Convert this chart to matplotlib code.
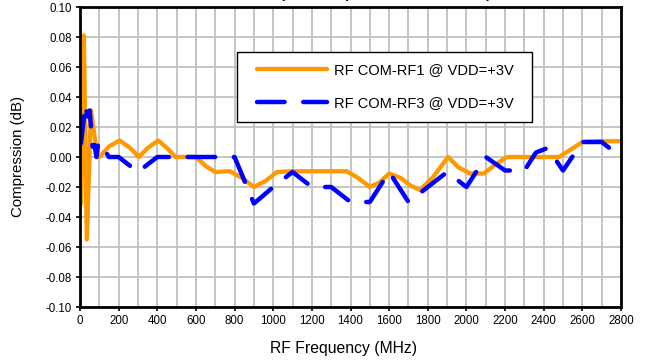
import matplotlib
matplotlib.use("Agg")
import matplotlib.pyplot as plt
from matplotlib.patches import Rectangle
from matplotlib.ticker import MultipleLocator

plt.rcParams['font.family'] = ['Liberation Sans', 'DejaVu Sans']

# ---- data ----
rf1_freq = [5, 20, 35, 57, 90, 100, 150, 205, 260, 305, 350, 405, 450, 495, 600, 650,
            700, 775, 840, 900, 960, 1020, 1100, 1200, 1300, 1380, 1440, 1500, 1550,
            1600, 1660, 1710, 1760, 1830, 1905, 1960, 2020, 2090, 2150, 2210, 2300,
            2400, 2480, 2540, 2600, 2700, 2800]
rf1_comp = [-0.031, 0.081, -0.055, 0.031, 0.000, 0.000, 0.007, 0.011, 0.006, 0.000,
            0.006, 0.011, 0.006, 0.000, 0.000, -0.006, -0.010, -0.0095, -0.014, -0.020,
            -0.016, -0.010, -0.0095, -0.0095, -0.0095, -0.0095, -0.014, -0.020, -0.017,
            -0.011, -0.014, -0.019, -0.022, -0.013, 0.000, -0.007, -0.011, -0.011,
            -0.005, 0.000, 0.000, 0.000, 0.000, 0.005, 0.010, 0.0105, 0.0105]

rf3_freq = [5, 28, 38, 50, 65, 75, 85, 95, 105, 150, 200, 300, 400, 500, 600, 700, 800,
            900, 1000, 1100, 1200, 1300, 1400, 1500, 1600, 1700, 1800, 1900, 2000, 2100,
            2200, 2300, 2360, 2420, 2500, 2600, 2700, 2750]
rf3_comp = [0.009, 0.035, 0.027, 0.031, 0.007, 0.008, 0.000, 0.010, 0.009, 0.000, 0.000,
            -0.010, 0.000, 0.000, 0.000, 0.000, 0.000, -0.031, -0.020, -0.010, -0.020,
            -0.020, -0.030, -0.030, -0.010, -0.030, -0.020, -0.010, -0.020, 0.000,
            -0.009, -0.009, 0.003, 0.006, -0.009, 0.010, 0.010, 0.005]

series_labels = ["RF COM-RF1 @ VDD=+3V", "RF COM-RF3 @ VDD=+3V"]
x_ticks = list(range(0, 2801, 200))
y_ticks = [-0.10, -0.08, -0.06, -0.04, -0.02, 0.00, 0.02, 0.04, 0.06, 0.08, 0.10]

W, H = 647, 362
fig = plt.figure(figsize=(W / 100, H / 100), dpi=100)
ax = fig.add_axes([80 / W, 1 - 307 / H, (621 - 80) / W, (307 - 7) / H])

ax.plot(rf1_freq, rf1_comp, color='#FF9900', lw=3.1, solid_joinstyle='round',
        solid_capstyle='round', label=series_labels[0], zorder=3)
ax.plot(rf3_freq, rf3_comp, color='#0000FF', lw=3.2, dashes=(6.2, 4.2),
        dash_capstyle='round', dash_joinstyle='round', label=series_labels[1], zorder=4)

ax.set_xlim(0, 2800)
ax.set_ylim(-0.10, 0.10)
ax.set_xticks(x_ticks)
ax.set_xticklabels([str(t) for t in x_ticks])
ax.xaxis.set_minor_locator(MultipleLocator(100))
ax.set_yticks(y_ticks)
ax.set_yticklabels([f"{t:.2f}" for t in y_ticks])
ax.tick_params(axis='both', which='major', labelsize=8.3, length=3, width=1.2,
               direction='out', color='black', pad=3)
ax.tick_params(axis='x', which='minor', length=0)
ax.grid(True, which='both', axis='x', color='#C0C0C0', lw=1.3, zorder=0)
ax.grid(True, which='major', axis='y', color='#C0C0C0', lw=1.3, zorder=0)
ax.set_axisbelow(True)
for s in ax.spines.values():
    s.set_linewidth(2.0)
    s.set_color('black')
    s.set_zorder(5)

# legend
x0, x1 = (237 - 80) / 541, (532 - 80) / 541
y_top, y_bot = (307 - 52) / 300, (307 - 122) / 300
ax.add_patch(Rectangle((x0, y_bot), x1 - x0, y_top - y_bot, transform=ax.transAxes,
                       facecolor='white', edgecolor='black', lw=1.0, zorder=6))
leg = ax.legend(loc='upper left', bbox_to_anchor=((257 - 80) / 541, (307 - 63) / 300),
                frameon=False, fontsize=10.5, handlelength=4.8, handletextpad=0.5,
                labelspacing=1.3, borderpad=0, borderaxespad=0)
leg.set_zorder(7)

fig.text(18 / W, 1 - 156 / H, 'Compression (dB)', rotation=90, ha='center',
         va='center', fontsize=10.8)
fig.text(343 / W, 1 - 349 / H, 'RF Frequency (MHz)', ha='center', va='center',
         fontsize=11.3)
fig.text(251 / W, 1.0 + 2 / H, 'Compression (Normalized to 0 dBm)', ha='left',
         va='baseline', fontsize=10, fontweight='bold')

fig.savefig('out.png', dpi=100)
